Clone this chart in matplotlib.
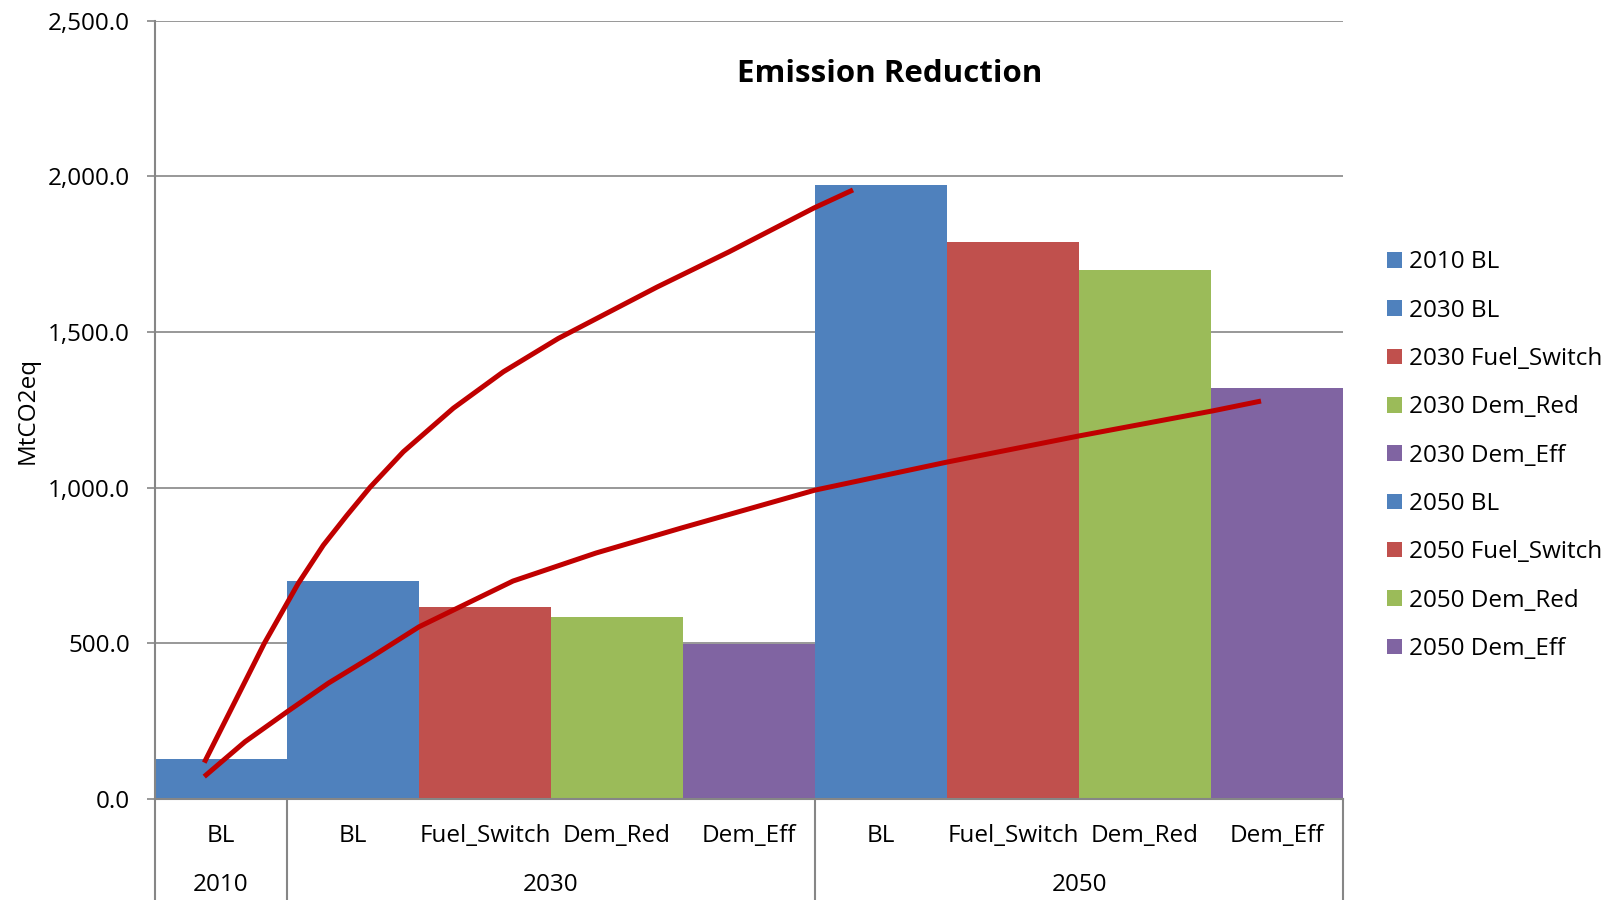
import matplotlib
matplotlib.use("Agg")
import matplotlib.pyplot as plt
from matplotlib.transforms import blended_transform_factory

plt.rcParams['font.family'] = ['Open Sans', 'DejaVu Sans']

# Emissions per scenario (MtCO2eq)
years = ['2010', '2030', '2030', '2030', '2030', '2050', '2050', '2050', '2050']
scenarios = ['BL', 'BL', 'Fuel_Switch', 'Dem_Red', 'Dem_Eff',
             'BL', 'Fuel_Switch', 'Dem_Red', 'Dem_Eff']
emissions = [128, 700, 617, 584, 497, 1973, 1789, 1700, 1321]

# year groups shown under the scenario labels
groups = ['2010', '2030', '2050']

# hand-drawn trend curves (category position, MtCO2eq)
upper_x = [-0.127, 0.328, 0.586, 0.775, 0.952, 1.129, 1.381, 1.760,
           2.139, 2.555, 3.303, 3.848, 4.492, 4.788]
upper_y = [117, 500, 693, 815, 910, 1001, 1115, 1255,
           1372, 1479, 1644, 1757, 1898, 1956]
lower_x = [-0.127, 0.182, 0.500, 0.813, 1.142, 1.500, 2.212, 2.841,
           3.485, 4.500, 5.500, 6.500, 7.508, 7.879]
lower_y = [72, 184, 280, 372, 457, 553, 700, 790,
           870, 992, 1082, 1166, 1246, 1278]

colors = {'BL': '#4F81BD', 'Fuel_Switch': '#C0504D',
          'Dem_Red': '#9BBB59', 'Dem_Eff': '#8064A2'}
grey = '#868686'
fs = 17.5

fig = plt.figure(figsize=(16.08, 9), dpi=100)
ax = fig.add_axes([0.0964, 0.1122, 0.7388, 0.865])

for i, (yr, sc, val) in enumerate(zip(years, scenarios, emissions)):
    ax.bar(i, val, width=1.0, color=colors[sc], label=f'{yr} {sc}', zorder=2)

for xs, ys in [(upper_x, upper_y), (lower_x, lower_y)]:
    ax.plot(xs, ys, color='#C00000', lw=3.6, solid_capstyle='butt',
            solid_joinstyle='round', zorder=3)

ax.set_xlim(-0.5, len(emissions) - 0.5)
ax.set_ylim(0, 2500)
yticks = [0, 500, 1000, 1500, 2000, 2500]
ax.set_yticks(yticks)
ax.set_yticklabels([f'{v:,.1f}' for v in yticks], fontsize=fs)
ax.tick_params(axis='y', length=6, width=1.2, color=grey, pad=12)
ax.set_xticks([])
ax.grid(axis='y', color=grey, lw=1.2, zorder=0)
ax.set_axisbelow(True)

for side in ['top', 'right']:
    ax.spines[side].set_visible(False)
for side in ['left', 'bottom']:
    ax.spines[side].set_color(grey)
    ax.spines[side].set_linewidth(1.5)
    ax.spines[side].set_zorder(4)

# two-level category axis
trans = blended_transform_factory(ax.transData, ax.transAxes)
for i, sc in enumerate(scenarios):
    ax.text(i, -0.047, sc, transform=trans, ha='center', va='center', fontsize=fs)
for g in groups:
    idx = [i for i, yr in enumerate(years) if yr == g]
    ax.text((idx[0] + idx[-1]) / 2, -0.111, g, transform=trans,
            ha='center', va='center', fontsize=fs)
bounds = [-0.5] + [i + 0.5 for i in range(len(years) - 1) if years[i] != years[i + 1]] \
    + [len(years) - 0.5]
for b in bounds:
    ax.plot([b, b], [0, -0.14], transform=trans, color=grey, lw=1.5, clip_on=False)

fig.text(0.0174, 0.5444, 'MtCO2eq', rotation=90, ha='center', va='center', fontsize=fs)

fig.text(0.5535, 0.918, 'Emission Reduction', ha='center', va='center',
         fontsize=22.5, fontweight='bold')

fig.legend(loc='upper left', bbox_to_anchor=(0.8565, 0.7325), frameon=False,
           fontsize=fs, handlelength=0.6, handleheight=0.6, handletextpad=0.3,
           labelspacing=1.0, borderaxespad=0)

fig.savefig('out.png', dpi=100)
